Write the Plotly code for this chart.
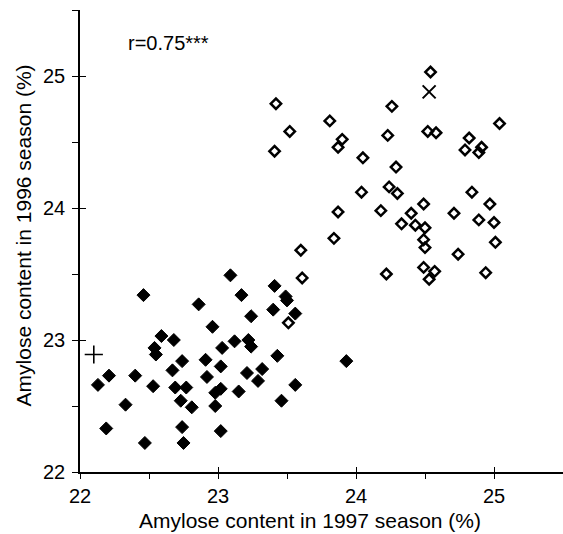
import plotly.graph_objects as go

# Filled diamonds (1997 %, 1996 %)
filled_x = [23.09, 22.46, 22.86, 22.96, 22.59, 22.68, 22.54, 22.55, 23.03, 23.12,
            22.74, 22.91, 22.67, 23.02, 22.21, 22.40, 22.92, 22.13, 22.53, 22.69,
            22.77, 23.02, 22.98, 23.15, 22.73, 22.33, 22.81, 22.98, 22.19, 22.74,
            23.02, 22.47, 22.75, 23.41, 23.49, 23.50, 23.17, 23.40, 23.24, 23.56,
            23.22, 23.24, 23.43, 23.93, 23.21, 23.32, 23.29, 23.56, 23.46]
filled_y = [23.49, 23.34, 23.27, 23.10, 23.03, 23.00, 22.94, 22.89, 22.94, 22.99,
            22.84, 22.85, 22.77, 22.80, 22.73, 22.73, 22.72, 22.66, 22.65, 22.64,
            22.64, 22.63, 22.60, 22.61, 22.54, 22.51, 22.49, 22.50, 22.33, 22.34,
            22.31, 22.22, 22.22, 23.41, 23.33, 23.30, 23.34, 23.23, 23.18, 23.20,
            23.00, 22.95, 22.88, 22.84, 22.75, 22.78, 22.69, 22.66, 22.54]

# Open diamonds
open_x = [23.61, 23.51, 23.42, 23.52, 23.41, 23.81, 23.90, 23.87, 24.26, 24.23,
          24.54, 24.52, 24.58, 24.05, 24.29, 24.04, 24.24, 24.30, 24.49, 23.87,
          24.18, 24.40, 24.33, 24.43, 24.50, 24.49, 24.50, 23.84, 23.60, 24.22,
          24.49, 24.57, 24.53, 25.04, 24.82, 24.79, 24.91, 24.89, 24.84, 24.97,
          24.71, 24.89, 25.00, 25.01, 24.74, 24.94]
open_y = [23.47, 23.13, 24.79, 24.58, 24.43, 24.66, 24.52, 24.46, 24.77, 24.55,
          25.03, 24.58, 24.57, 24.38, 24.31, 24.12, 24.16, 24.11, 24.03, 23.97,
          23.98, 23.96, 23.88, 23.87, 23.85, 23.76, 23.70, 23.77, 23.68, 23.50,
          23.55, 23.52, 23.46, 24.64, 24.53, 24.44, 24.46, 24.42, 24.12, 24.03,
          23.96, 23.91, 23.89, 23.74, 23.65, 23.51]

# Special markers
plus_x, plus_y = [22.10], [22.89]
cross_x, cross_y = [24.53], [24.88]

annotation_text = "r=0.75***"
x_title = "Amylose content in 1997 season (%)"
y_title = "Amylose content in 1996 season (%)"
tick_vals = [22, 23, 24, 25]

FONT = "Liberation Sans, Arial, sans-serif"

fig = go.Figure()
fig.add_trace(go.Scatter(x=filled_x, y=filled_y, mode="markers",
                         marker=dict(symbol="diamond", size=10, color="black",
                                     line=dict(width=1, color="black"))))
fig.add_trace(go.Scatter(x=open_x, y=open_y, mode="markers",
                         marker=dict(symbol="diamond-open", size=8, color="black",
                                     line=dict(width=2.5, color="black"))))
fig.add_trace(go.Scatter(x=plus_x, y=plus_y, mode="markers",
                         marker=dict(symbol="cross-thin", size=13, color="black",
                                     line=dict(width=1.6, color="black"))))
fig.add_trace(go.Scatter(x=cross_x, y=cross_y, mode="markers",
                         marker=dict(symbol="x-thin", size=13, color="black",
                                     line=dict(width=2, color="black"))))
# empty trace to create overlay axes (inner half of crossing ticks)
fig.add_trace(go.Scatter(x=[], y=[], xaxis="x2", yaxis="y2", showlegend=False))

axis_common = dict(range=[22, 25.5], tickvals=tick_vals, showgrid=False, zeroline=False)

fig.update_layout(
    width=563, height=534,
    margin=dict(l=80, r=0, t=10, b=62),
    paper_bgcolor="white", plot_bgcolor="white",
    showlegend=False,
    font=dict(family=FONT, size=20, color="black"),
    xaxis=dict(**axis_common, showline=True, linecolor="black", linewidth=1.6,
               ticks="outside", ticklen=5, tickwidth=1.3, tickcolor="black",
               minor=dict(dtick=0.5, tick0=22, ticks="outside", ticklen=5,
                          tickwidth=1.3, tickcolor="black"),
               tickfont=dict(size=20), ticklabelstandoff=0),
    yaxis=dict(**axis_common, showline=True, linecolor="black", linewidth=1.6,
               ticks="outside", ticklen=5, tickwidth=1.3, tickcolor="black",
               minor=dict(dtick=0.5, tick0=22, ticks="outside", ticklen=6,
                          tickwidth=1.3, tickcolor="black"),
               tickfont=dict(size=20), ticklabelstandoff=4),
    xaxis2=dict(**axis_common, overlaying="x", anchor="y2", showline=False,
                ticks="inside", ticklen=5, tickwidth=1.3, tickcolor="black",
                showticklabels=False),
    yaxis2=dict(**axis_common, overlaying="y", anchor="x2", showline=False,
                ticks="inside", ticklen=6, tickwidth=1.3, tickcolor="black",
                showticklabels=False),
    annotations=[
        dict(text=annotation_text, xref="x", yref="y", x=22.33, y=25.25,
             xanchor="left", yanchor="middle", showarrow=False,
             font=dict(size=20, family=FONT)),
        dict(text=x_title, xref="paper", yref="paper", x=0.476, y=-0.104,
             xanchor="center", yanchor="middle", showarrow=False,
             font=dict(size=21, family=FONT)),
        dict(text=y_title, xref="paper", yref="paper", x=-0.118, y=0.512,
             xanchor="center", yanchor="middle", textangle=-90, showarrow=False,
             font=dict(size=21, family=FONT)),
    ],
)

fig.write_html("out.html")
